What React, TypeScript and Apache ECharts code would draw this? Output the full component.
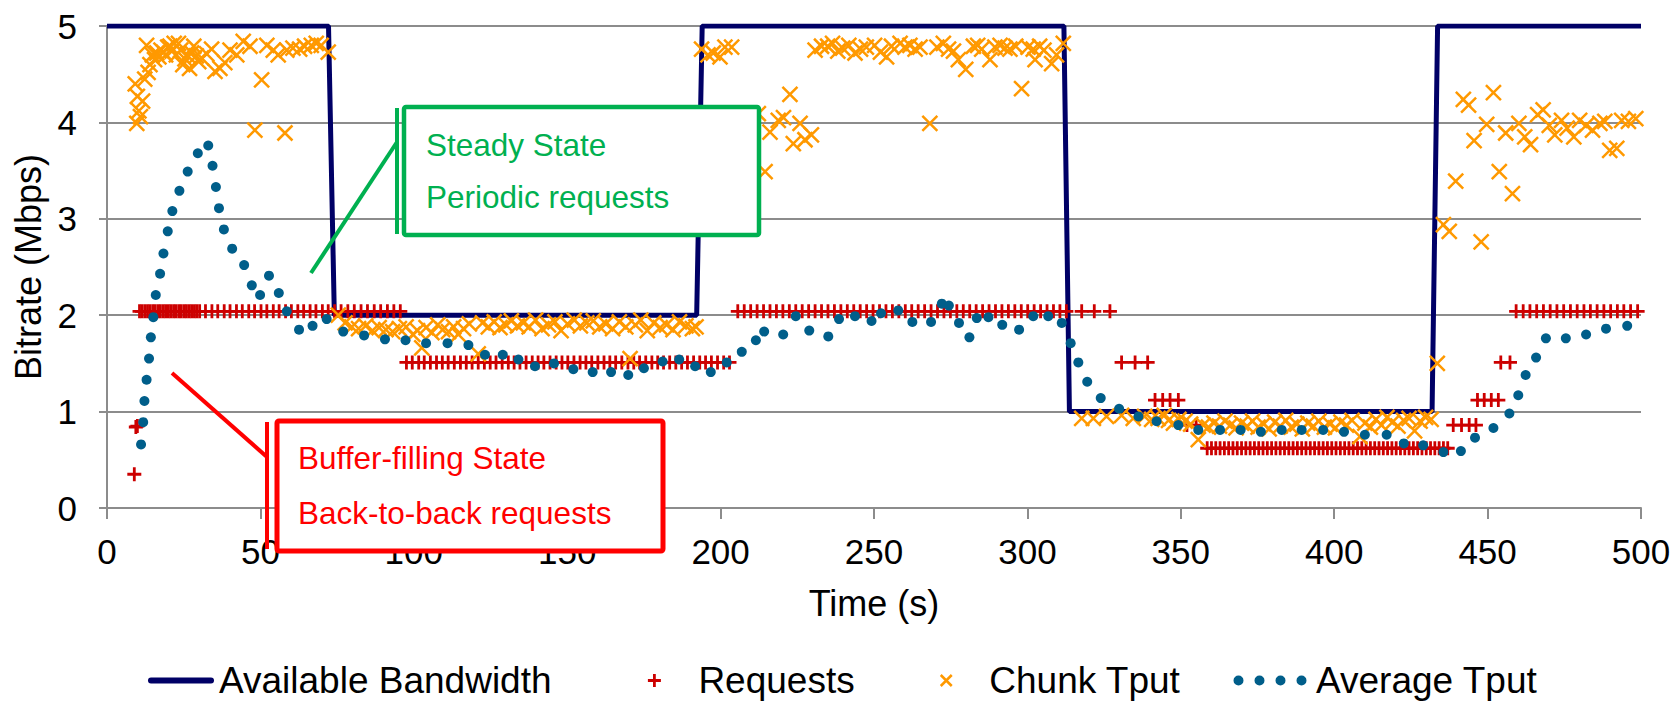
import React, { useEffect, useRef } from 'react';
import * as echarts from 'echarts';

// ---------- DATA ----------
const bandwidthTime = [0, 72.2, 74.1, 192.2, 194.0, 311.9, 313.7, 431.9, 433.7, 500];
const bandwidthMbps = [5, 5, 2, 2, 5, 5, 1, 1, 5, 5];

const reqStartup = [[8.9, 0.35], [9.4, 0.84], [9.9, 0.85]];
const reqRateHigh = 2.04;
const reqTimesHighA = [10.6, 11.4, 12.3, 13.2, 14.0, 14.9, 15.7, 16.6, 17.4, 18.3, 19.1, 20.0, 20.8, 21.7, 22.5, 23.4, 24.2, 25.1, 25.9, 26.8, 27.6, 28.5, 29.3, 30.2, 32.1, 34.2, 36.1, 38.2, 40.1, 42.2, 44.1, 46.2, 48.1, 50.2, 52.1, 54.2, 56.1, 58.2, 60.1, 62.2, 64.1, 66.2, 68.1, 70.2, 72.1, 74.2, 76.3, 78.5, 80.6, 82.8, 84.9, 87.1, 89.2, 91.4, 93.5, 95.6];
const reqRateMid = 1.51;
const reqTimesMidA = [97.6, 99.5, 101.6, 103.4, 105.4, 107.4, 109.3, 111.2, 113.2, 115.2, 117.1, 119.0, 121.0, 123.0, 124.9, 126.8, 128.8, 130.8, 132.7, 134.6, 136.6, 138.6, 140.5, 142.4, 144.4, 146.4, 148.3, 150.2, 152.2, 154.2, 156.1, 158.0, 160.0, 162.0, 163.9, 165.8, 167.8, 169.8, 171.7, 173.6, 175.6, 177.6, 179.5, 181.4, 183.4, 185.4, 187.3, 189.2, 191.2, 193.2, 195.1, 197.0, 199.0, 201.0, 202.9];
const reqTimesHighB = [205.6, 207.7, 209.8, 211.9, 214.0, 216.1, 218.2, 220.3, 222.4, 224.5, 226.6, 228.7, 230.8, 232.9, 235.0, 237.1, 239.2, 241.3, 243.4, 245.5, 247.6, 249.7, 251.8, 253.9, 256.0, 258.1, 260.2, 262.3, 264.4, 266.5, 268.6, 270.7, 272.8, 274.9, 277.0, 279.1, 281.2, 283.3, 285.4, 287.5, 289.6, 291.7, 293.8, 295.9, 298.0, 300.1, 302.2, 304.3, 306.4, 308.5, 310.6, 312.7, 317.7, 321.8, 326.9];
const reqTimesMidB = [330.7, 335.1, 339.2];
const reqRateLowMid = 1.12;
const reqTimesLowMidA = [341.6, 344.1, 346.5, 349.2];
const reqRateLow = 0.86;
const reqTimesLowA = [352.0, 355.0];
const reqRateLowest = 0.62;
const reqTimesLowest = [358.6, 360.0, 361.4, 362.8, 364.2, 365.6, 367.0, 368.4, 369.8, 371.2, 372.6, 374.0, 375.4, 376.8, 378.2, 379.6, 381.0, 382.4, 383.8, 385.2, 386.6, 388.0, 389.4, 390.8, 392.2, 393.6, 395.0, 396.4, 397.8, 399.2, 400.6, 402.0, 403.4, 404.8, 406.2, 407.6, 409.0, 410.4, 411.8, 413.2, 414.6, 416.0, 417.4, 418.8, 420.2, 421.6, 423.0, 424.4, 425.8, 427.2, 428.6, 430.0, 431.4, 432.8, 434.2, 435.6, 437.0];
const reqTimesLowB = [438.8, 441.5, 444.0, 446.2];
const reqTimesLowMidB = [446.7, 448.9, 451.2, 453.5];
const reqTimesMidC = [454.3, 457.3];
const reqTimesHighC = [459.3, 461.6, 463.8, 466.0, 468.2, 470.4, 472.6, 474.8, 477.0, 479.2, 481.4, 483.5, 485.7, 487.9, 490.1, 492.3, 494.4, 496.6, 498.9];

const chunkTput = [
  [9.2, 4.40], [9.9, 4.27], [10.4, 4.12], [9.7, 3.99], [10.9, 4.06], [11.6, 4.22], [12.3, 4.45], [12.9, 4.80], [13.4, 4.52], [14.0, 4.60],
  [14.8, 4.70], [15.5, 4.65], [16.2, 4.72], [16.9, 4.68], [17.6, 4.75], [18.4, 4.73], [19.1, 4.70], [19.8, 4.78], [20.5, 4.79], [21.2, 4.74],
  [21.9, 4.82], [22.6, 4.70], [23.3, 4.82], [24.0, 4.75], [24.7, 4.60], [25.4, 4.66], [26.1, 4.70], [26.9, 4.56], [27.6, 4.72], [28.3, 4.79],
  [29.1, 4.69], [29.9, 4.63], [30.8, 4.67], [32.5, 4.71], [34.1, 4.76], [35.2, 4.53], [36.8, 4.56], [38.4, 4.62], [40.1, 4.75], [42.3, 4.70],
  [44.4, 4.84], [46.6, 4.79], [48.2, 3.92], [50.4, 4.44], [52.1, 4.80], [54.2, 4.75], [55.8, 4.70], [58.0, 3.89], [58.6, 4.75], [60.6, 4.77],
  [62.8, 4.76], [64.4, 4.79], [66.6, 4.80], [68.2, 4.82], [69.8, 4.80], [72.1, 4.73],
  [75.4, 2.00], [77.6, 1.92], [79.8, 1.88], [82.0, 1.86], [84.3, 1.89], [86.5, 1.84], [88.7, 1.87], [90.9, 1.85], [93.1, 1.83], [95.3, 1.86],
  [97.5, 1.88], [99.7, 1.80], [101.2, 1.84], [102.6, 1.66], [104.0, 1.87], [105.9, 1.82], [107.8, 1.90], [109.4, 1.85], [111.3, 1.83], [113.0, 1.88],
  [114.5, 1.80], [116.2, 1.86], [118.1, 1.91], [121.0, 1.60], [122.4, 1.92], [124.3, 1.88], [126.2, 1.93], [128.1, 1.87], [130.0, 1.90], [131.8, 1.94],
  [133.8, 1.89], [135.7, 1.92], [137.6, 1.88], [139.7, 1.95], [141.8, 1.86], [143.9, 1.90], [146.0, 1.93], [148.0, 1.84], [150.1, 1.91], [152.3, 1.95],
  [154.3, 1.89], [156.4, 1.92], [158.5, 1.94], [160.6, 1.88], [162.6, 1.91], [164.8, 1.86], [167.0, 1.93], [169.1, 1.88], [170.5, 1.55], [172.2, 1.90],
  [174.0, 1.95], [176.1, 1.84], [178.2, 1.92], [180.3, 1.87], [182.4, 1.90], [184.5, 1.85], [186.6, 1.93], [188.7, 1.89], [190.8, 1.86], [192.0, 1.88],
  [193.8, 4.76], [195.9, 4.70], [197.6, 4.72], [199.8, 4.68], [201.4, 4.78], [203.6, 4.78], [212.3, 4.09], [214.5, 3.49], [216.1, 3.90], [218.8, 4.02],
  [220.5, 4.05], [222.6, 4.29], [223.7, 3.78], [225.9, 3.99], [227.5, 3.82], [229.6, 3.87], [230.8, 4.75], [232.9, 4.79], [234.9, 4.79], [236.5, 4.82],
  [238.2, 4.74], [239.8, 4.77], [241.8, 4.80], [243.8, 4.72], [245.6, 4.76], [247.5, 4.78], [250.2, 4.80], [252.1, 4.73], [254.1, 4.68], [255.7, 4.79],
  [258.5, 4.82], [260.1, 4.78], [261.7, 4.80], [263.4, 4.76], [265.0, 4.78], [268.2, 3.99], [270.5, 4.78], [272.6, 4.82], [274.3, 4.76], [275.9, 4.74],
  [277.5, 4.65], [279.9, 4.55], [282.4, 4.79], [283.8, 4.80], [285.1, 4.76], [287.8, 4.65], [289.4, 4.78], [291.1, 4.80], [292.7, 4.77], [294.3, 4.76],
  [296.2, 4.79], [298.1, 4.35], [300.2, 4.78], [301.9, 4.76], [302.5, 4.65], [304.0, 4.79], [305.4, 4.75], [307.9, 4.61], [309.5, 4.70], [311.7, 4.82],
  [317.7, 0.93], [321.5, 0.93], [325.8, 0.95], [330.7, 0.96], [334.5, 0.93], [338.2, 0.95], [340.5, 0.92], [342.6, 0.93], [344.6, 0.96], [346.0, 0.91],
  [347.6, 0.88], [349.4, 0.92], [351.4, 0.90], [353.2, 0.87], [355.7, 0.71], [357.3, 0.86], [359.0, 0.84], [360.8, 0.88], [362.6, 0.85], [364.4, 0.90],
  [366.2, 0.86], [368.0, 0.83], [369.8, 0.88], [371.6, 0.85], [373.4, 0.90], [375.2, 0.84], [377.0, 0.87], [378.8, 0.82], [380.6, 0.89], [382.4, 0.85],
  [384.2, 0.91], [386.0, 0.84], [387.8, 0.87], [389.6, 0.82], [391.4, 0.88], [393.2, 0.85], [395.0, 0.90], [396.8, 0.84], [398.6, 0.87], [400.4, 0.83],
  [402.2, 0.89], [404.0, 0.86], [405.8, 0.91], [408.4, 0.74], [410.0, 0.88], [411.8, 0.84], [413.6, 0.92], [415.4, 0.86], [417.2, 0.94], [419.0, 0.89],
  [420.8, 0.85], [422.6, 0.91], [424.4, 0.93], [426.2, 0.80], [428.0, 0.90], [429.8, 0.94], [431.6, 0.92], [433.6, 1.50],
  [435.6, 2.94], [437.5, 2.87], [439.6, 3.39], [442.1, 4.24], [443.8, 4.18], [445.6, 3.81], [447.9, 2.76], [449.7, 3.98], [451.9, 4.31], [453.8, 3.49],
  [455.9, 3.89], [458.1, 3.26], [460.2, 3.99], [462.1, 3.85], [464.0, 3.77], [466.3, 4.08], [468.1, 4.13], [470.1, 3.97], [471.9, 3.87], [474.1, 4.02],
  [475.9, 3.94], [478.1, 3.85], [480.0, 4.02], [482.1, 3.97], [484.2, 3.92], [486.6, 3.99], [488.2, 4.01], [489.8, 3.71], [492.1, 3.73], [493.7, 4.02],
  [495.9, 4.01], [498.3, 4.04]
];

const averageTput = [
  [11.1, 0.66], [11.8, 0.89], [12.2, 1.11], [12.9, 1.33], [13.7, 1.55], [14.3, 1.77], [15.1, 1.98], [15.9, 2.21], [17.3, 2.43], [18.4, 2.64],
  [19.8, 2.87], [21.3, 3.08], [23.6, 3.29], [26.3, 3.49], [29.6, 3.68], [33.0, 3.76], [34.4, 3.55], [35.5, 3.33], [36.5, 3.11], [38.1, 2.89],
  [40.8, 2.69], [44.7, 2.52], [47.2, 2.31], [49.9, 2.21], [52.8, 2.41], [56.0, 2.23], [58.6, 2.04], [62.6, 1.85], [67.0, 1.89], [71.6, 1.96],
  [77.0, 1.83], [83.8, 1.79], [90.6, 1.75], [97.3, 1.74], [104.0, 1.71], [111.0, 1.71], [117.8, 1.69], [123.2, 1.59], [129.0, 1.59], [134.1, 1.54],
  [139.5, 1.47], [145.7, 1.50], [152.0, 1.44], [158.3, 1.41], [164.3, 1.41], [169.9, 1.38], [175.0, 1.45], [181.1, 1.52], [186.5, 1.54], [191.7, 1.47],
  [196.8, 1.41], [202.0, 1.51], [206.9, 1.62], [211.5, 1.74], [214.2, 1.83], [220.4, 1.80], [224.5, 1.99], [228.9, 1.84], [235.1, 1.78], [238.6, 1.96],
  [243.8, 1.99], [249.2, 1.94], [252.3, 2.02], [257.9, 2.05], [262.5, 1.93], [268.6, 1.93], [272.1, 2.12], [274.4, 2.10], [277.7, 1.92], [281.1, 1.77],
  [283.5, 1.97], [287.3, 1.98], [291.8, 1.90], [297.3, 1.85], [301.9, 1.99], [306.8, 1.99], [311.2, 1.92], [314.1, 1.71], [316.6, 1.51], [319.5, 1.31],
  [323.9, 1.14], [329.9, 1.03], [336.2, 0.95], [342.1, 0.90], [349.2, 0.86], [355.7, 0.81], [362.8, 0.81], [369.5, 0.81], [376.1, 0.79], [382.9, 0.81],
  [389.4, 0.81], [396.4, 0.81], [403.2, 0.79], [410.0, 0.76], [417.1, 0.76], [422.7, 0.67], [429.0, 0.65], [435.6, 0.58], [441.3, 0.59], [445.9, 0.73],
  [451.9, 0.83], [457.1, 0.98], [460.0, 1.17], [462.4, 1.38], [465.8, 1.56], [469.0, 1.76], [475.5, 1.76], [482.1, 1.80], [488.6, 1.86], [495.5, 1.89]
];

const seriesNames = ['Available Bandwidth', 'Requests', 'Chunk Tput', 'Average Tput'];
const annotationSteady = ['Steady State', 'Periodic requests'];
const annotationBuffer = ['Buffer-filling State', 'Back-to-back requests'];

// ---------- STYLE ----------
const FONT = '"Liberation Sans", Arial, Helvetica, sans-serif';
const C_BW = '#000066';
const C_REQ = '#CC0000';
const C_CHUNK = '#FF9900';
const C_AVG = '#005E8A';
const C_GRID = '#8C8C8C';
const C_GREEN = '#00B050';
const C_RED = '#FF0000';

const PLUS = 'path://M0 6 L12 6 M6 0 L6 12';
const CROSS = 'path://M0 0 L12 12 M12 0 L0 12';

function buildRequests(): number[][] {
  const out: number[][] = reqStartup.map((p) => [p[0], p[1]]);
  const add = (times: number[], rate: number) => times.forEach((t) => out.push([t, rate]));
  add(reqTimesHighA, reqRateHigh);
  add(reqTimesMidA, reqRateMid);
  add(reqTimesHighB, reqRateHigh);
  add(reqTimesMidB, reqRateMid);
  add(reqTimesLowMidA, reqRateLowMid);
  add(reqTimesLowA, reqRateLow);
  add(reqTimesLowest, reqRateLowest);
  add(reqTimesLowB, reqRateLow);
  add(reqTimesLowMidB, reqRateLowMid);
  add(reqTimesMidC, reqRateMid);
  add(reqTimesHighC, reqRateHigh);
  return out;
}

export default function App() {
  const ref = useRef<HTMLDivElement>(null);
  useEffect(() => {
    document.body.style.margin = '0';
    if (!ref.current) return;
    const chart = echarts.init(ref.current, null, { renderer: 'svg' });
    const legendBase = {
      orient: 'horizontal',
      top: 662,
      padding: 0,
      itemHeight: 14,
      selectedMode: false,
      textStyle: { fontSize: 37, color: '#000', fontFamily: FONT },
    };
    const option: any = {
      animation: false,
      backgroundColor: '#fff',
      grid: { left: 107, right: 36, top: 26, bottom: 197, containLabel: false },
      xAxis: {
        type: 'value', min: 0, max: 500, interval: 50,
        name: 'Time (s)', nameLocation: 'middle', nameGap: 77,
        nameTextStyle: { fontSize: 36, color: '#000', fontFamily: FONT },
        axisLine: { show: true, lineStyle: { color: C_GRID, width: 2 } },
        axisTick: { show: true, inside: false, length: 11, lineStyle: { color: C_GRID, width: 2 } },
        axisLabel: { fontSize: 35, color: '#000', fontFamily: FONT, margin: 26 },
        splitLine: { show: false },
      },
      yAxis: {
        type: 'value', min: 0, max: 5, interval: 1,
        name: 'Bitrate (Mbps)', nameLocation: 'middle', nameGap: 56,
        nameTextStyle: { fontSize: 36, color: '#000', fontFamily: FONT },
        axisLine: { show: true, lineStyle: { color: C_GRID, width: 2 } },
        axisTick: { show: true, inside: false, length: 8, lineStyle: { color: C_GRID, width: 2 } },
        axisLabel: { fontSize: 35, color: '#000', fontFamily: FONT, margin: 30 },
        splitLine: { show: true, lineStyle: { color: C_GRID, width: 2 } },
      },
      legend: [
        { ...legendBase, left: 148, itemWidth: 66,
          data: [{ name: seriesNames[0], icon: 'path://M0 0 M66 14 M3 4 L63 4 A3 3 0 0 1 63 10 L3 10 A3 3 0 0 1 3 4 Z',
            itemStyle: { color: C_BW, borderWidth: 0 } }] },
        { ...legendBase, left: 614, itemWidth: 78,
          data: [{ name: seriesNames[1], icon: 'path://M0 0 M78 14 M32.5 7 L45.5 7 M39 0.5 L39 13.5',
            itemStyle: { color: C_REQ, borderColor: C_REQ, borderWidth: 2.8 } }] },
        { ...legendBase, left: 907, itemWidth: 76,
          data: [{ name: seriesNames[2], icon: 'path://M0 0 M76 14 M32.5 1.5 L43.5 12.5 M43.5 1.5 L32.5 12.5',
            itemStyle: { color: C_CHUNK, borderColor: C_CHUNK, borderWidth: 2.5 } }] },
        { ...legendBase, left: 1233, itemWidth: 78,
          data: [{ name: seriesNames[3],
            icon: 'path://M0 0 M78 14 M0.5 7 A5 5 0 1 0 10.5 7 A5 5 0 1 0 0.5 7 Z M21.5 7 A5 5 0 1 0 31.5 7 A5 5 0 1 0 21.5 7 Z M42.5 7 A5 5 0 1 0 52.5 7 A5 5 0 1 0 42.5 7 Z M63.5 7 A5 5 0 1 0 73.5 7 A5 5 0 1 0 63.5 7 Z',
            itemStyle: { color: C_AVG, borderWidth: 0 } }] },
      ],
      series: [
        {
          name: seriesNames[0], type: 'line', showSymbol: false, symbol: 'none', silent: true,
          data: bandwidthTime.map((t, i) => [t, bandwidthMbps[i]]),
          lineStyle: { color: C_BW, width: 5 }, itemStyle: { color: C_BW }, z: 2,
        },
        {
          name: seriesNames[1], type: 'scatter', silent: true, symbol: PLUS, symbolSize: 14,
          data: buildRequests(),
          itemStyle: { color: C_REQ, borderColor: C_REQ, borderWidth: 2.8, opacity: 1 }, z: 3,
        },
        {
          name: seriesNames[2], type: 'scatter', silent: true, symbol: CROSS, symbolSize: 15,
          data: chunkTput,
          itemStyle: { color: C_CHUNK, borderColor: C_CHUNK, borderWidth: 2.5, opacity: 1 }, z: 4,
        },
        {
          name: seriesNames[3], type: 'scatter', silent: true, symbol: 'circle', symbolSize: 10,
          data: averageTput,
          itemStyle: { color: C_AVG, opacity: 1 }, z: 5,
        },
      ],
      graphic: [
        { type: 'line', z: 100, shape: { x1: 311, y1: 273, x2: 397, y2: 142 }, style: { stroke: C_GREEN, lineWidth: 4 } },
        { type: 'line', z: 100, shape: { x1: 397, y1: 108, x2: 397, y2: 234 }, style: { stroke: C_GREEN, lineWidth: 4 } },
        { type: 'rect', z: 100, shape: { x: 404, y: 107, width: 355, height: 128, r: 2 }, style: { fill: '#fff', stroke: C_GREEN, lineWidth: 4.5 } },
        { type: 'text', z: 101, x: 426, y: 145, style: { text: annotationSteady[0], fill: C_GREEN, fontSize: 31.5, fontFamily: FONT, align: 'left', verticalAlign: 'middle', textAlign: 'left', textVerticalAlign: 'middle' } },
        { type: 'text', z: 101, x: 426, y: 197, style: { text: annotationSteady[1], fill: C_GREEN, fontSize: 31.5, fontFamily: FONT, align: 'left', verticalAlign: 'middle', textAlign: 'left', textVerticalAlign: 'middle' } },
        { type: 'line', z: 100, shape: { x1: 172, y1: 373, x2: 267, y2: 457 }, style: { stroke: C_RED, lineWidth: 4 } },
        { type: 'line', z: 100, shape: { x1: 267, y1: 422, x2: 267, y2: 549 }, style: { stroke: C_RED, lineWidth: 4 } },
        { type: 'rect', z: 100, shape: { x: 277, y: 421, width: 386, height: 130, r: 2 }, style: { fill: '#fff', stroke: C_RED, lineWidth: 5 } },
        { type: 'text', z: 101, x: 298, y: 458, style: { text: annotationBuffer[0], fill: C_RED, fontSize: 31.5, fontFamily: FONT, align: 'left', verticalAlign: 'middle', textAlign: 'left', textVerticalAlign: 'middle' } },
        { type: 'text', z: 101, x: 298, y: 513, style: { text: annotationBuffer[1], fill: C_RED, fontSize: 31.5, fontFamily: FONT, align: 'left', verticalAlign: 'middle', textAlign: 'left', textVerticalAlign: 'middle' } },
      ],
    };
    chart.setOption(option);
    return () => chart.dispose();
  }, []);
  return <div ref={ref} style={{ position: 'fixed', left: 0, top: 0, width: '1677px', height: '705px', background: '#fff' }} />;
}
